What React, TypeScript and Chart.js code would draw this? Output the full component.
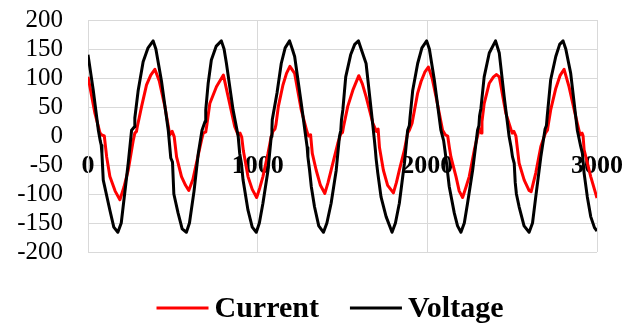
import React, { useEffect, useRef } from "react";
import { Chart, registerables } from "chart.js";

Chart.register(...registerables);

const FONT = '"Liberation Serif", "Times New Roman", serif';

const seriesNames = ["Current", "Voltage"];
const seriesColors = ["#ff0000", "#000000"];

const xTickStep = 1000;
const xRange = [0, 3000];
const yTickStep = 50;
const yRange = [-200, 200];

const currentX = [
  0, 41, 71, 80, 96, 110, 129, 160, 188,
  212, 237, 267, 276, 286, 290, 316, 345, 370, 394,
  420, 453, 482, 490, 496, 508, 522, 551, 575, 594,
  618, 639, 669, 679, 694, 700, 718, 757, 798,
  826, 865, 885, 896, 906, 916, 943, 968, 994,
  1012, 1031, 1061, 1080, 1090, 1102, 1108, 1122, 1149, 1170, 1190,
  1218, 1257, 1290, 1300, 1312, 1322, 1345, 1370, 1396,
  1415, 1433, 1472, 1490, 1500, 1506, 1531, 1561, 1596,
  1617, 1639, 1679, 1700, 1710, 1718, 1741, 1766, 1800,
  1818, 1835, 1865, 1884, 1894, 1910, 1943, 1963, 1985, 2006,
  2028, 2051, 2090, 2106, 2120, 2130, 2139, 2169, 2188, 2208,
  2228, 2247, 2277, 2302, 2312, 2318, 2322, 2335, 2365, 2390, 2408,
  2424, 2463, 2500, 2510, 2522, 2541, 2571, 2600, 2612,
  2639, 2669, 2696, 2708, 2712, 2727, 2757, 2782, 2806,
  2835, 2875, 2900, 2912, 2918, 2924, 2963, 3000,
];
const currentY = [
  102, 39, 5, 2, 0, -36, -70, -95, -110,
  -88, -59, -7, 5, 8, 15, 51, 88, 105, 115,
  95, 51, 2, 5, 8, -1, -36, -70, -85, -94,
  -75, -47, -7, 5, 7, 18, 56, 85, 105,
  68, 16, 2, 5, -2, -26, -70, -92, -106,
  -90, -70, -30, -1, 8, 12, 20, 51, 88, 108, 120,
  108, 45, 8, 0, 2, -30, -59, -85, -99,
  -80, -59, -13, 4, 6, 16, 51, 79, 104,
  90, 68, 22, 8, 12, -20, -59, -85, -98,
  -80, -59, -24, 5, 10, 22, 74, 94, 110, 119,
  100, 68, 10, 2, 0, -20, -36, -70, -95, -106,
  -88, -70, -24, 8, 12, 5, 25, 56, 91, 102, 106,
  102, 39, 5, 8, 0, -47, -76, -94, -96,
  -64, -18, 5, 10, 18, 45, 82, 104, 115,
  85, 33, 2, 5, 0, -24, -70, -107,
];

const voltageX = [
  0, 31, 61, 72, 78, 82, 90, 129, 152, 176,
  196, 237, 257, 274, 276, 296, 325, 354, 384,
  400, 433, 473, 488, 498, 506, 531, 555, 580,
  598, 625, 650, 672, 690, 694, 708, 727, 756, 786,
  802, 816, 855, 885, 894, 904, 914, 943, 968, 992,
  1010, 1031, 1061, 1080, 1084, 1086, 1114, 1139, 1162, 1188,
  1204, 1218, 1257, 1286, 1292, 1296, 1306, 1316, 1335, 1360, 1388,
  1408, 1433, 1463, 1482, 1490, 1494, 1502, 1519, 1548, 1572, 1594,
  1610, 1639, 1669, 1688, 1694, 1698, 1708, 1727, 1757, 1792,
  1812, 1835, 1865, 1884, 1894, 1898, 1914, 1943, 1968, 1996,
  2012, 2041, 2080, 2096, 2104, 2110, 2129, 2159, 2178, 2198,
  2218, 2237, 2267, 2296, 2304, 2308, 2316, 2335, 2365, 2402,
  2424, 2453, 2482, 2494, 2502, 2512, 2518, 2525, 2541, 2570, 2600,
  2620, 2639, 2669, 2694, 2702, 2706, 2727, 2757, 2780, 2800,
  2816, 2845, 2884, 2904, 2914, 2924, 2943, 2963, 2985, 3000,
];
const voltageY = [
  140, 79, 10, -8, -16, -30, -76, -128, -157, -166,
  -150, -47, 10, 16, 31, 79, 128, 152, 164,
  150, 95, 10, -38, -45, -100, -133, -160, -166,
  -150, -95, -30, 10, 25, 45, 90, 131, 155, 164,
  150, 125, 45, 0, -30, -47, -76, -128, -157, -166,
  -150, -116, -59, -1, 12, 28, 74, 125, 152, 164,
  150, 137, 56, -7, -20, -36, -59, -87, -122, -155, -166,
  -150, -116, -59, -1, 10, 28, 45, 102, 140, 158, 164,
  150, 125, 45, -7, -25, -39, -64, -105, -139, -166,
  -150, -116, -47, 10, 18, 32, 79, 125, 152, 164,
  150, 97, 10, -8, -25, -39, -87, -133, -155, -166,
  -150, -116, -59, 10, 18, 35, 48, 102, 143, 164,
  143, 68, -1, -20, -36, -47, -80, -100, -122, -155, -166,
  -150, -105, -36, 12, 18, 32, 97, 137, 158, 164,
  150, 108, 10, -18, -30, -64, -105, -139, -158, -164,
];

const toPoints = (xs: number[], ys: number[]) => xs.map((x, i) => ({ x, y: ys[i] }));

const lineLegend = {
  id: "lineLegend",
  afterDraw(chart: any) {
    const ctx = chart.ctx;
    ctx.save();
    ctx.font = `bold 30px ${FONT}`;
    const items = chart.data.datasets.map((ds: any) => ({
      label: ds.label,
      color: ds.borderColor,
      w: ctx.measureText(ds.label).width,
    }));
    const lineLen = 52;
    const gap = 6;
    const itemGap = 31;
    const total =
      items.reduce((s: number, it: any) => s + lineLen + gap + it.w, 0) + itemGap * (items.length - 1);
    let x = 330 - total / 2;
    const yLine = 308;
    const yText = 317;
    items.forEach((it: any) => {
      ctx.strokeStyle = it.color;
      ctx.lineWidth = 3;
      ctx.beginPath();
      ctx.moveTo(x, yLine);
      ctx.lineTo(x + lineLen, yLine);
      ctx.stroke();
      ctx.fillStyle = "#000";
      ctx.textAlign = "left";
      ctx.textBaseline = "alphabetic";
      ctx.fillText(it.label, x + lineLen + gap, yText);
      x += lineLen + gap + it.w + itemGap;
    });
    ctx.restore();
  },
};

export default function App() {
  const ref = useRef<HTMLCanvasElement | null>(null);
  useEffect(() => {
    if (!ref.current) return;
    const chart = new Chart(ref.current, {
      type: "line",
      data: {
        datasets: [
          {
            label: seriesNames[0],
            data: toPoints(currentX, currentY),
            borderColor: seriesColors[0],
            backgroundColor: seriesColors[0],
            borderWidth: 3,
            pointRadius: 0,
            tension: 0,
            fill: false,
            borderJoinStyle: "round",
            order: 1,
          },
          {
            label: seriesNames[1],
            data: toPoints(voltageX, voltageY),
            borderColor: seriesColors[1],
            backgroundColor: seriesColors[1],
            borderWidth: 3,
            pointRadius: 0,
            tension: 0,
            fill: false,
            borderJoinStyle: "round",
            order: 0,
          },
        ],
      },
      options: {
        animation: false,
        responsive: true,
        maintainAspectRatio: false,
        layout: { padding: { left: 0, right: 36, top: 20, bottom: 71 } },
        plugins: {
          legend: { display: false },
          tooltip: { enabled: false },
        },
        scales: {
          x: {
            type: "linear",
            min: xRange[0],
            max: xRange[1],
            position: { y: 0 } as any,
            grid: { color: "#d9d9d9", lineWidth: 1, drawTicks: false },
            border: { display: false },
            ticks: {
              stepSize: xTickStep,
              autoSkip: false,
              maxRotation: 0,
              padding: 15,
              color: "#000",
              font: { family: FONT, size: 26, weight: "bold" },
              callback: (v: any) => String(v),
            },
            afterFit: (s: any) => {
              s.paddingLeft = 0;
              s.paddingRight = 0;
            },
          },
          y: {
            type: "linear",
            min: yRange[0],
            max: yRange[1],
            grid: { color: "#d9d9d9", lineWidth: 1, drawTicks: false },
            border: { display: true, color: "#d9d9d9" },
            ticks: {
              stepSize: yTickStep,
              autoSkip: false,
              padding: 25,
              color: "#000",
              font: { family: FONT, size: 25 },
              callback: (v: any) => String(v),
            },
            afterFit: (s: any) => {
              s.width = 88;
              s.paddingTop = 15;
              s.paddingBottom = 15;
            },
          },
        },
      },
      plugins: [lineLegend],
    });
    return () => chart.destroy();
  }, []);
  return (
    <div style={{ position: "absolute", left: 0, top: 0, width: 633, height: 323 }}>
      <canvas ref={ref} />
    </div>
  );
}
